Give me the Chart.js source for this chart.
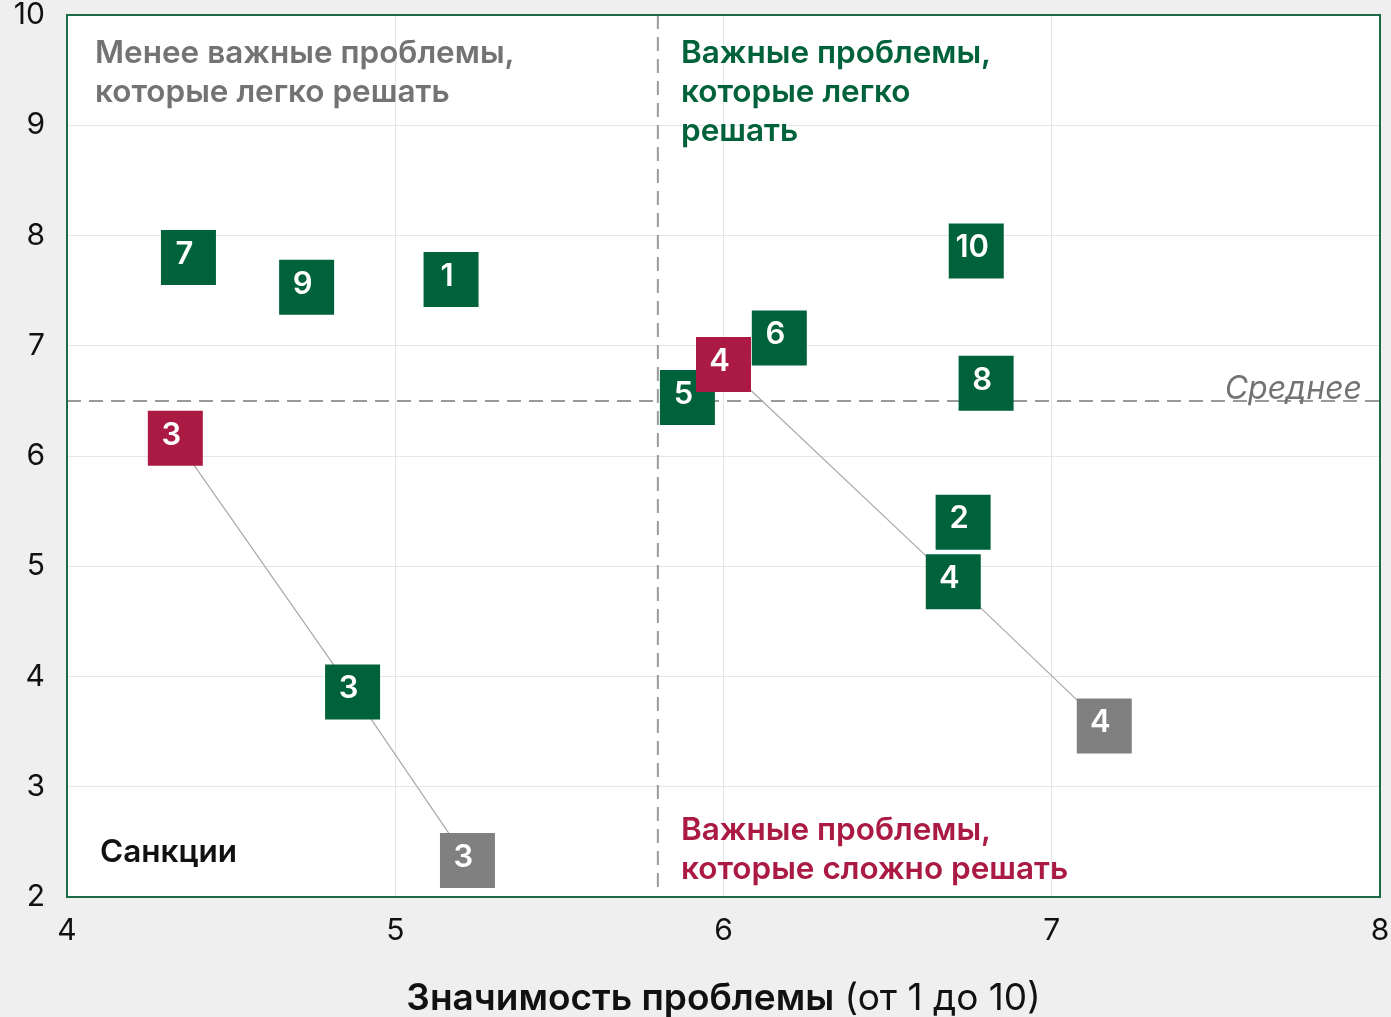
<!DOCTYPE html>
<html>
<head>
<meta charset="utf-8">
<script src="https://cdn.jsdelivr.net/npm/chart.js@4/dist/chart.umd.min.js"></script>
<style>
  html, body { margin: 0; padding: 0; background: #efefef; }
  #wrap { width: 1391px; height: 1017px; }
</style>
</head>
<body>
<div id="wrap"><canvas id="matrix" width="1391" height="1017"></canvas></div>
<script>
// problem scores: x = importance, y = ease of solving
var greenLabels = ['7', '9', '1', '10', '6', '5', '8', '2', '4', '3'];
var greenX = [4.37, 4.73, 5.17, 6.77, 6.17, 5.89, 6.80, 6.73, 6.70, 4.87];
var greenY = [7.80, 7.53, 7.60, 7.86, 7.07, 6.53, 6.66, 5.40, 4.86, 3.86];

var redLabels = ['4', '3'];
var redX = [6.00, 4.33];
var redY = [6.83, 6.16];

var grayLabels = ['4', '3'];
var grayX = [7.16, 5.22];
var grayY = [3.55, 2.33];

// the two tracked problems: red -> green -> gray
var trackGreenIdx = [8, 9];

var avgX = 5.8;
var avgY = 6.5;

var xTicks = [4, 5, 6, 7, 8];
var yTicks = [2, 3, 4, 5, 6, 7, 8, 9, 10];

var GREEN = '#00623b';
var RED = '#ab1a43';
var GRAY = '#808080';
var FONT = 'Inter, "Noto Sans", sans-serif';

function pts(xs, ys) {
	return xs.map(function (x, i) { return {x: x, y: ys[i]}; });
}

var tracks = redX.map(function (x, i) {
	var g = trackGreenIdx[i];
	return {
		type: 'scatter',
		data: [{x: redX[i], y: redY[i]}, {x: greenX[g], y: greenY[g]}, {x: grayX[i], y: grayY[i]}],
		showLine: true,
		borderColor: '#a9a9a9',
		borderWidth: 1.2,
		pointRadius: 0,
		order: 5
	};
});

function markerSet(xs, ys, color, labels, order) {
	return {
		data: pts(xs, ys),
		labels: labels,
		backgroundColor: color,
		borderWidth: 0,
		pointStyle: 'rect',
		pointRadius: 55 / Math.SQRT2,
		pointHoverRadius: 55 / Math.SQRT2,
		order: order
	};
}

var datasets = [
	markerSet(redX, redY, RED, redLabels, 0),
	markerSet(grayX, grayY, GRAY, grayLabels, 1),
	markerSet(greenX, greenY, GREEN, greenLabels, 2)
].concat(tracks);

// white plot background, averages, frame
var backdrop = {
	id: 'backdrop',
	beforeDatasetsDraw: function (chart) {
		var c = chart.ctx, a = chart.chartArea;
		var xs = chart.scales.x, ys = chart.scales.y;
		c.save();
		c.strokeStyle = '#9a9a9a';
		c.lineWidth = 2;
		c.setLineDash([14, 8]);
		var py = ys.getPixelForValue(avgY);
		c.beginPath();
		c.moveTo(a.left, py);
		c.lineTo(a.right, py);
		c.stroke();
		var px = xs.getPixelForValue(avgX);
		c.beginPath();
		c.moveTo(px, a.top);
		c.lineTo(px, a.bottom - 6);
		c.stroke();
		c.restore();
	},
	beforeDraw: function (chart) {
		var c = chart.ctx, a = chart.chartArea;
		c.save();
		c.fillStyle = '#ffffff';
		c.fillRect(a.left, a.top, a.right - a.left, a.bottom - a.top);
		c.restore();
	},
	afterDraw: function (chart) {
		var c = chart.ctx, a = chart.chartArea;
		c.save();
		c.strokeStyle = '#1b6b47';
		c.lineWidth = 2;
		c.strokeRect(a.left, a.top, a.right - a.left, a.bottom - a.top);
		c.restore();
	}
};

// numbers on the squares and the free text
var annotate = {
	id: 'annotate',
	afterDatasetsDraw: function (chart) {
		var c = chart.ctx;
		c.save();
		c.fillStyle = '#ffffff';
		c.font = '600 31px ' + FONT;
		c.textAlign = 'center';
		c.textBaseline = 'middle';
		chart.data.datasets.forEach(function (ds, di) {
			if (!ds.labels) return;
			chart.getDatasetMeta(di).data.forEach(function (el, i) {
				c.fillText(ds.labels[i], el.x - 4, el.y - 3);
			});
		});

		c.textAlign = 'left';
		c.font = '600 31.5px ' + FONT;
		c.fillStyle = '#737373';
		c.fillText('Менее важные проблемы,', 95, 54);
		c.fillText('которые легко решать', 95, 93);
		c.fillStyle = GREEN;
		c.fillText('Важные проблемы,', 681, 54);
		c.fillText('которые легко', 681, 93);
		c.fillText('решать', 681, 132);
		c.fillStyle = RED;
		c.fillText('Важные проблемы,', 681, 831);
		c.fillText('которые сложно решать', 681, 870);
		c.fillStyle = '#111111';
		c.fillText('Санкции', 100, 853);

		c.fillStyle = '#737373';
		c.font = 'italic 32px ' + FONT;
		c.textAlign = 'right';
		c.fillText('Среднее', 1362, 389);

		// axis title: bold part + plain part, centred under the plot
		var a = chart.chartArea;
		var t1 = 'Значимость проблемы', t2 = ' (от 1 до 10)';
		c.font = '600 37px ' + FONT;
		var w1 = c.measureText(t1).width;
		c.font = '400 37px ' + FONT;
		var w2 = c.measureText(t2).width;
		var x0 = (a.left + a.right) / 2 - (w1 + w2) / 2;
		c.textAlign = 'left';
		c.fillStyle = '#111111';
		c.font = '600 37px ' + FONT;
		c.fillText(t1, x0, 999);
		c.font = '400 37px ' + FONT;
		c.fillText(t2, x0 + w1, 999);
		c.restore();
	}
};

new Chart(document.getElementById('matrix').getContext('2d'), {
	type: 'scatter',
	data: {datasets: datasets},
	options: {
		responsive: false,
		animation: false,
		events: [],
		layout: {autoPadding: false, padding: {top: 15, right: 11, left: 0, bottom: 0}},
		plugins: {legend: {display: false}, tooltip: {enabled: false}},
		scales: {
			x: {
				type: 'linear',
				min: 4, max: 8,
				afterBuildTicks: function (s) { s.ticks = xTicks.map(function (v) { return {value: v}; }); },
				afterFit: function (s) { s.height = 120; s.paddingLeft = 0; s.paddingRight = 0; },
				grid: {color: '#e6e6e6', drawTicks: false},
				border: {display: false},
				ticks: {color: '#111', padding: 16, font: {family: FONT, size: 30}}
			},
			y: {
				type: 'linear',
				min: 2, max: 10,
				afterBuildTicks: function (s) { s.ticks = yTicks.map(function (v) { return {value: v}; }); },
				afterFit: function (s) { s.width = 67; s.paddingTop = 0; s.paddingBottom = 0; },
				grid: {color: '#e6e6e6', drawTicks: false},
				border: {display: false},
				ticks: {color: '#111', padding: 22, font: {family: FONT, size: 30}}
			}
		}
	},
	plugins: [backdrop, annotate]
});
</script>
</body>
</html>
